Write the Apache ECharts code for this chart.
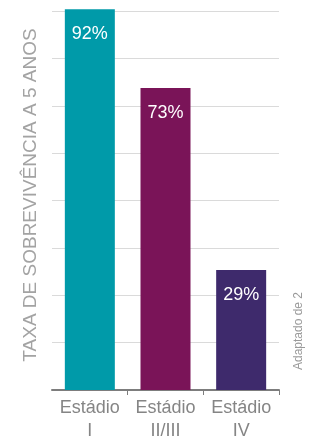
<!DOCTYPE html>
<html>
<head>
<meta charset="utf-8">
<script src="https://cdn.jsdelivr.net/npm/echarts@6/dist/echarts.min.js"></script>
<style>
  html, body { margin: 0; padding: 0; background: #fff; }
  #chart { width: 317px; height: 443px; }
</style>
</head>
<body>
<div id="chart"></div>
<script>
// dados
var categories = ["Estádio\nI", "Estádio\nII/III", "Estádio\nIV"];
var survival = [92, 73, 29];
var barColors = ["#009aa9", "#7a1458", "#3e2a6c"];

var chart = echarts.init(document.getElementById("chart"));

var seriesData = [];
for (var i = 0; i < survival.length; i++) {
    seriesData.push({
        value: survival[i],
        itemStyle: {color: barColors[i]}
    });
}

var option = {
    animation: false,
    grid: {left: 52, right: 38, top: 0, bottom: 49},
    xAxis: {
        type: "category",
        data: categories,
        axisLine: {lineStyle: {color: "#7d7d7d", width: 2}},
        axisTick: {
            show: true, length: 5,
            interval: function (idx) { return idx > 0; },
            lineStyle: {color: "#7d7d7d", width: 1}
        },
        axisLabel: {
            interval: 0,
            hideOverlap: false,
            color: "#858585",
            fontSize: 18,
            lineHeight: 23,
            margin: 7,
            fontFamily: "Liberation Sans, Arial, sans-serif"
        }
    },
    yAxis: {
        type: "value",
        min: 0,
        max: 94.26,
        interval: 11.44,
        name: "TAXA DE SOBREVIVÊNCIA A 5 ANOS",
        nameLocation: "middle",
        nameRotate: 90,
        nameGap: 12,
        nameTextStyle: {
            color: "#a3a3a3",
            fontSize: 19,
            fontFamily: "Liberation Sans, Arial, sans-serif"
        },
        axisLine: {show: false},
        axisTick: {show: false},
        axisLabel: {show: false},
        splitLine: {showMaxLine: false, lineStyle: {color: "#dadada", width: 1}}
    },
    series: [{
        type: "bar",
        barWidth: 50,
        data: seriesData,
        label: {
            show: true,
            position: "insideTop",
            distance: 16,
            formatter: "{c}%",
            color: "#ffffff",
            fontSize: 18,
            fontFamily: "Liberation Sans, Arial, sans-serif"
        }
    }],
    graphic: [{
        type: "text",
        x: 299,
        y: 331,
        rotation: Math.PI / 2,
        style: {
            text: "Adaptado de 2",
            fill: "#9a9a9a",
            fontSize: 12,
            fontFamily: "Liberation Sans, Arial, sans-serif",
            align: "center",
            verticalAlign: "middle"
        }
    }]
};
chart.setOption(option);
</script>
</body>
</html>
